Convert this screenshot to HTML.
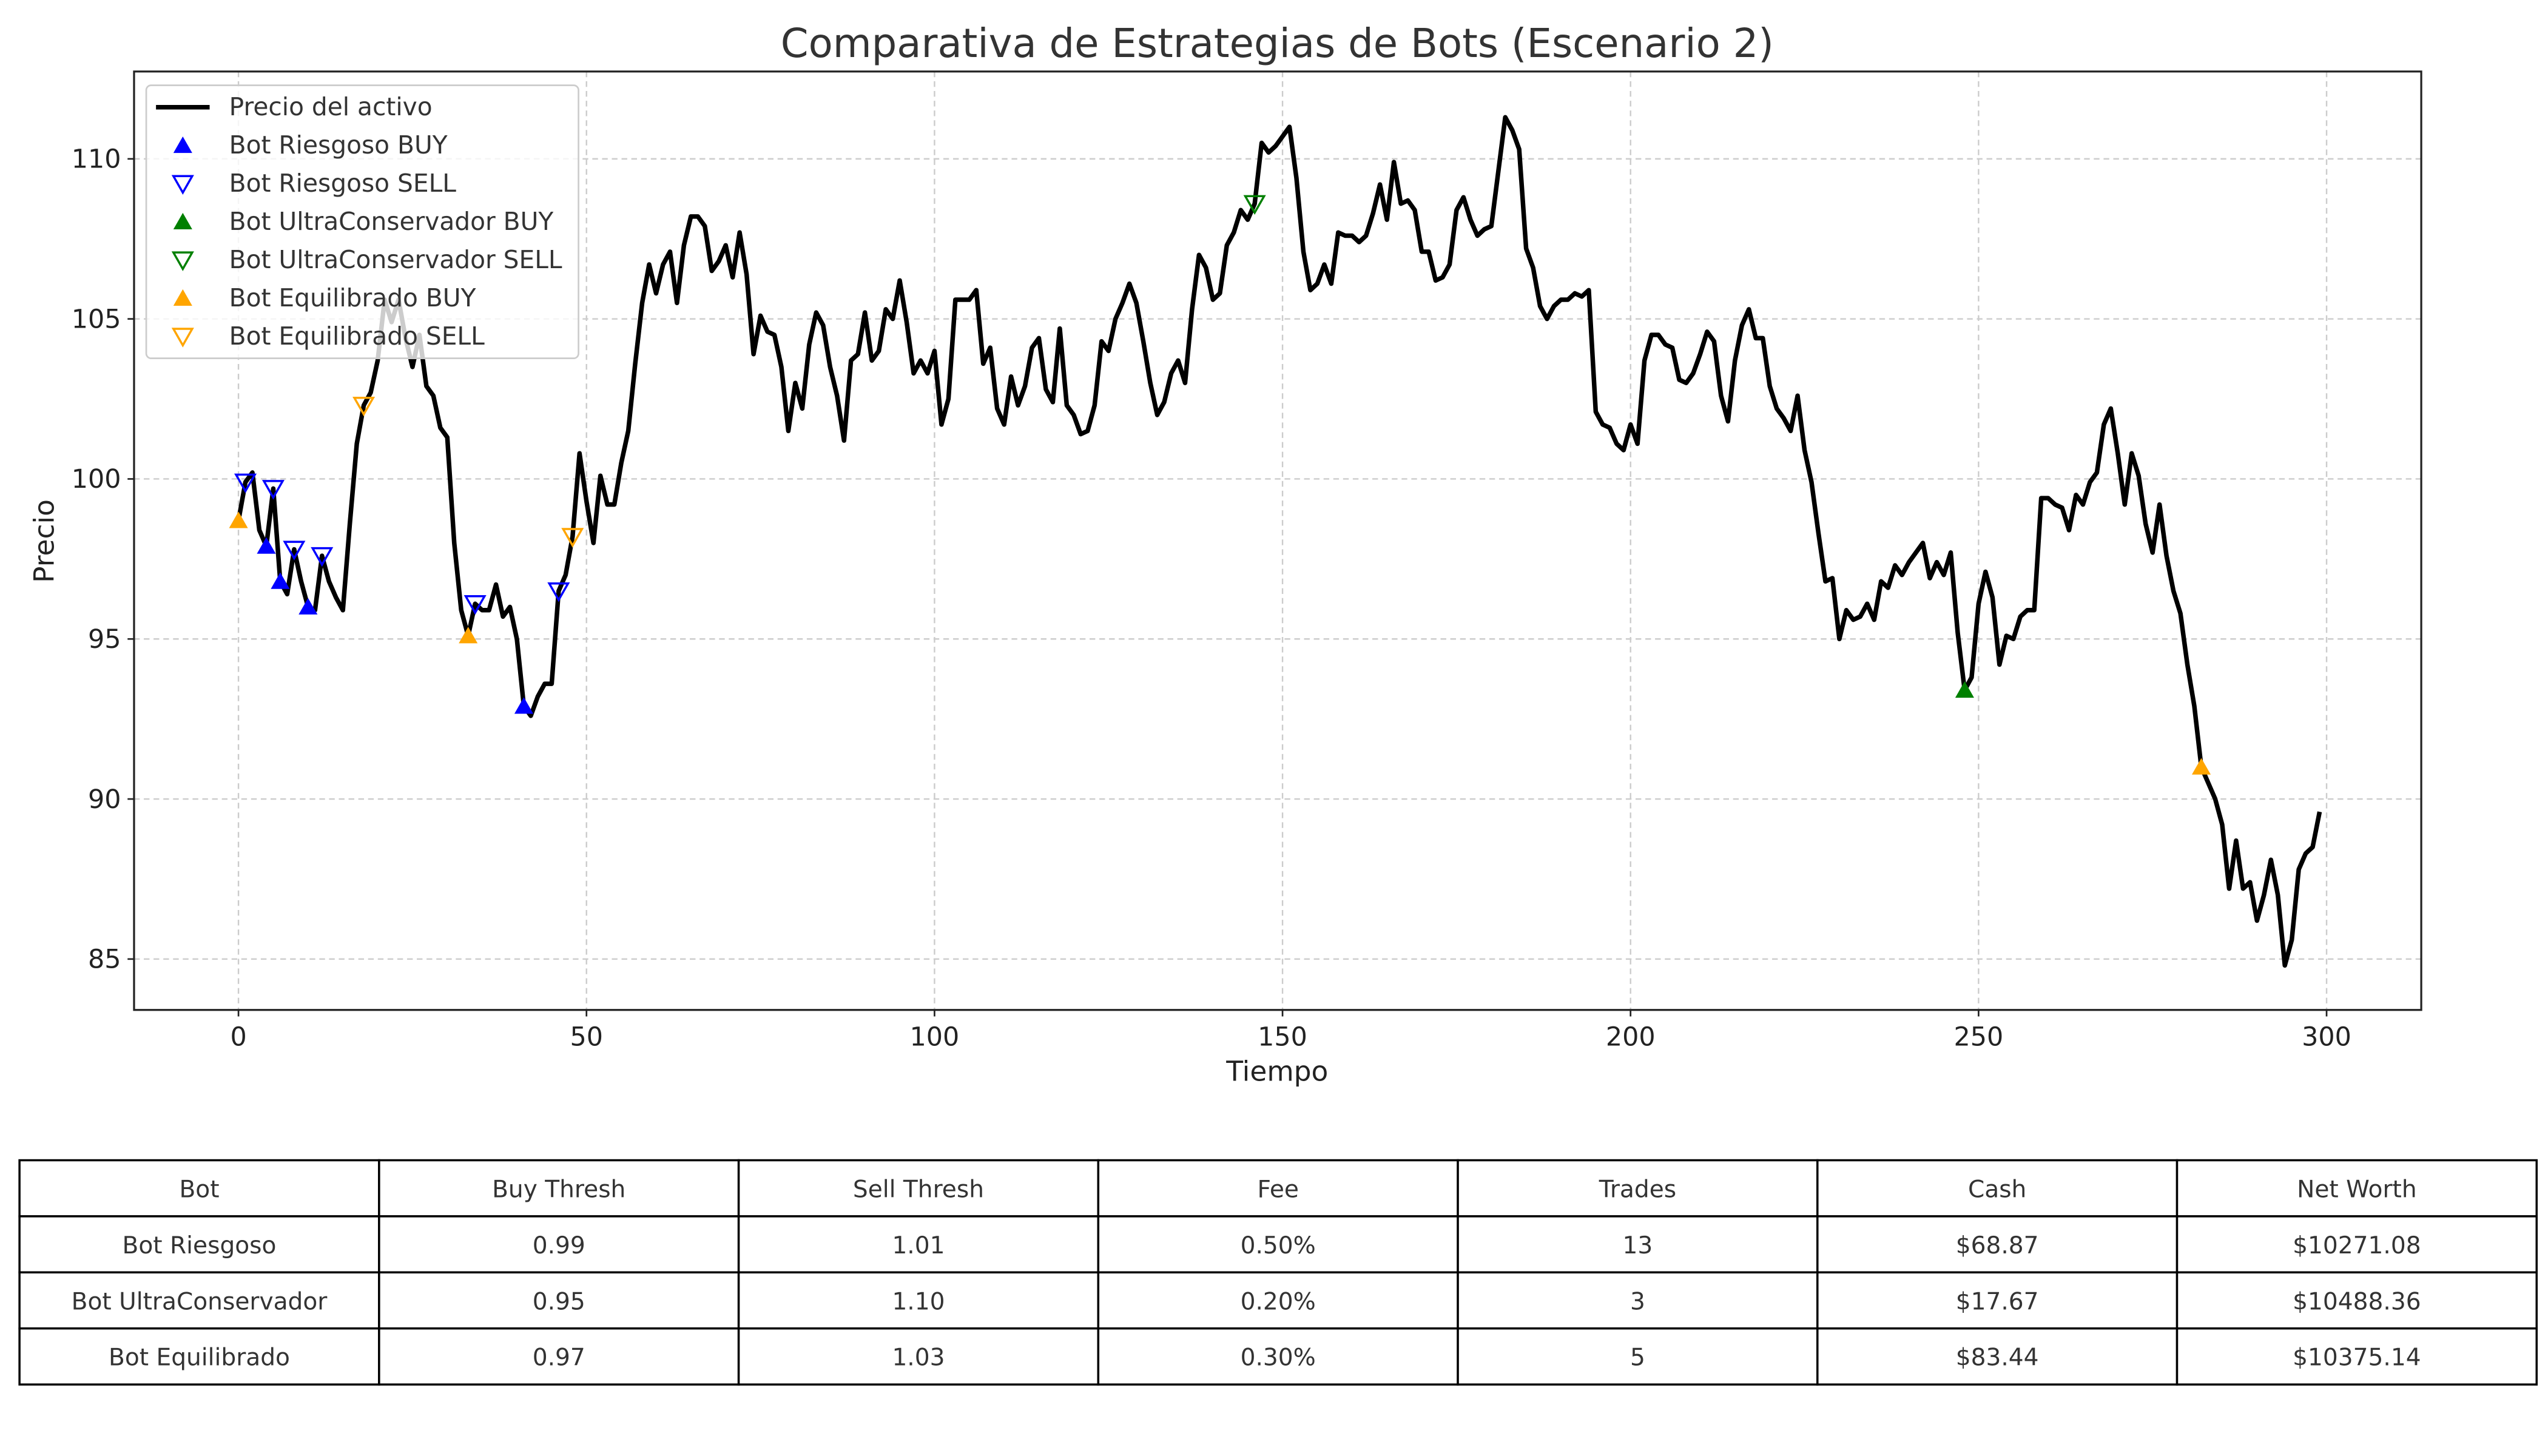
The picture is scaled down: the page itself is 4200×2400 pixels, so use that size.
<!DOCTYPE html>
<html><head><meta charset="utf-8"><style>
html,body{margin:0;padding:0;background:#fff;}
svg{display:block;font-family:"DejaVu Sans","Liberation Sans",sans-serif;}
</style></head><body>
<svg id="chart" xmlns="http://www.w3.org/2000/svg" width="4200" height="2400" viewBox="0 0 1568 896">
<rect x="0" y="0" width="1568" height="896" fill="#fff"/>
<text x="786" y="35" text-anchor="middle" font-size="24.5" fill="#333">Comparativa de Estrategias de Bots (Escenario 2)</text>
<g id="grid"></g>
<g id="plot"></g>
<g id="axes"></g>
<text x="786" y="665" text-anchor="middle" font-size="17" fill="#222">Tiempo</text>
<text x="0" y="0" transform="translate(33,333) rotate(-90)" text-anchor="middle" font-size="17" fill="#222">Precio</text>
<g id="legend">
<rect x="90" y="52.5" width="266" height="168" rx="3" fill="#fff" fill-opacity="0.8" stroke="#ccc" stroke-width="1"/>
</g>
<g id="table"></g>
</svg>
<script>
const NS="http://www.w3.org/2000/svg";
const price=[98.7,99.9,100.2,98.4,97.9,99.7,96.8,96.4,97.8,96.8,96.0,95.9,97.6,96.8,96.3,95.9,98.6,101.1,102.3,102.7,
103.7,105.6,104.9,105.6,104.4,103.5,104.5,102.9,102.6,101.6,101.3,98.0,95.9,95.1,96.1,95.9,95.9,96.7,95.7,96.0,
95.0,92.9,92.6,93.2,93.6,93.6,96.5,97.0,98.2,100.8,99.3,98.0,100.1,99.2,99.2,100.5,101.5,103.6,105.5,106.7,
105.8,106.7,107.1,105.5,107.3,108.2,108.2,107.9,106.5,106.8,107.3,106.3,107.7,106.4,103.9,105.1,104.6,104.5,103.5,101.5,
103.0,102.2,104.2,105.2,104.8,103.5,102.6,101.2,103.7,103.9,105.2,103.7,104.0,105.3,105.0,106.2,104.9,103.3,103.7,103.3,
104.0,101.7,102.5,105.6,105.6,105.6,105.9,103.6,104.1,102.2,101.7,103.2,102.3,102.9,104.1,104.4,102.8,102.4,104.7,102.3,
102.0,101.4,101.5,102.3,104.3,104.0,105.0,105.5,106.1,105.5,104.3,103.0,102.0,102.4,103.3,103.7,103.0,105.3,107.0,106.6,
105.6,105.8,107.3,107.7,108.4,108.1,108.6,110.5,110.2,110.4,110.7,111.0,109.4,107.1,105.9,106.1,106.7,106.1,107.7,107.6,
107.6,107.4,107.6,108.3,109.2,108.1,109.9,108.6,108.7,108.4,107.1,107.1,106.2,106.3,106.7,108.4,108.8,108.1,107.6,107.8,
107.9,109.6,111.3,110.9,110.3,107.2,106.6,105.4,105.0,105.4,105.6,105.6,105.8,105.7,105.9,102.1,101.7,101.6,101.1,100.9,
101.7,101.1,103.7,104.5,104.5,104.2,104.1,103.1,103.0,103.3,103.9,104.6,104.3,102.6,101.8,103.7,104.8,105.3,104.4,104.4,
102.9,102.2,101.9,101.5,102.6,100.9,99.9,98.3,96.8,96.9,95.0,95.9,95.6,95.7,96.1,95.6,96.8,96.6,97.3,97.0,
97.4,97.7,98.0,96.9,97.4,97.0,97.7,95.2,93.4,93.8,96.1,97.1,96.3,94.2,95.1,95.0,95.7,95.9,95.9,99.4,
99.4,99.2,99.1,98.4,99.5,99.2,99.9,100.2,101.7,102.2,100.8,99.2,100.8,100.1,98.6,97.7,99.2,97.6,96.5,95.8,
94.2,92.9,91.0,90.5,90.0,89.2,87.2,88.7,87.2,87.4,86.2,87.0,88.1,87.0,84.8,85.6,87.8,88.3,88.5,89.6];
const riskBuyT=[4,6,10,41];
const riskSellT=[1,5,8,12,34,46];
const ultraBuyT=[248];
const ultraSellT=[146];
const eqBuyT=[0,33,282];
const eqSellT=[18,48];
const xTicks=[0,50,100,150,200,250,300];
const yTicks=[85,90,95,100,105,110];
const tableHeader=["Bot","Buy Thresh","Sell Thresh","Fee","Trades","Cash","Net Worth"];
const rowRiesgoso=["Bot Riesgoso","0.99","1.01","0.50%","13","$68.87","$10271.08"];
const rowUltra=["Bot UltraConservador","0.95","1.10","0.20%","3","$17.67","$10488.36"];
const rowEquilibrado=["Bot Equilibrado","0.97","1.03","0.30%","5","$83.44","$10375.14"];

const L=82.5,R=1490,T=44,B=621.5;
const xMin=-15,xMax=313.6,yMin=83.41,yMax=112.73;
function sx(v){return L+(v-xMin)/(xMax-xMin)*(R-L);}
function sy(v){return B-(v-yMin)/(yMax-yMin)*(B-T);}
function mk(tag,attrs,parent){const e=document.createElementNS(NS,tag);for(const k in attrs)e.setAttribute(k,attrs[k]);parent.appendChild(e);return e;}
const grid=document.getElementById('grid'),plot=document.getElementById('plot'),axes=document.getElementById('axes');
xTicks.forEach(v=>{
  const g=mk('line',{x1:sx(v),x2:sx(v),y1:T,y2:B,stroke:'#ccc','stroke-width':0.9,'stroke-dasharray':'3.5,2.5'},grid);
  
  
  const tk=mk('line',{x1:sx(v),x2:sx(v),y1:B,y2:B+4,stroke:'#222','stroke-width':1},axes);
  
  
  const t=mk('text',{x:sx(v),y:B+22,'text-anchor':'middle','font-size':16,fill:'#222'},axes);
  t.textContent=v;
  
  
});
yTicks.forEach(v=>{
  const g=mk('line',{x1:L,x2:R,y1:sy(v),y2:sy(v),stroke:'#ccc','stroke-width':0.9,'stroke-dasharray':'3.5,2.5'},grid);
  
  
  const tk=mk('line',{x1:L-4,x2:L,y1:sy(v),y2:sy(v),stroke:'#222','stroke-width':1},axes);
  
  
  const t=mk('text',{x:L-8,y:sy(v)+5.5,'text-anchor':'end','font-size':16,fill:'#222'},axes);
  t.textContent=v;
  
  
});
const spine=mk('rect',{x:L,y:T,width:R-L,height:B-T,fill:'none',stroke:'#222','stroke-width':1.2},axes);


const pts=price.map((p,i)=>sx(i).toFixed(2)+','+sy(p).toFixed(2)).join(' ');
const line=mk('polyline',{points:pts,fill:'none',stroke:'#000','stroke-width':2.8,'stroke-linejoin':'round'},plot);


function tri(cx,cy,up,color,filled,parent,name){
  const s=5.8;
  const p=up?`${cx-s},${cy+s*0.8} ${cx+s},${cy+s*0.8} ${cx},${cy-s*0.95}`:`${cx-s},${cy-s*0.8} ${cx+s},${cy-s*0.8} ${cx},${cy+s*0.95}`;
  const e=mk('polygon',{points:p,fill:filled?color:'none',stroke:color,'stroke-width':filled?0:1.3},parent);
  
  
}
const sets=[[riskBuyT,true,'#0000ff',true,'riesgoso-buy-marker'],[riskSellT,false,'#0000ff',false,'riesgoso-sell-marker'],
[ultraBuyT,true,'#008000',true,'ultra-buy-marker'],[ultraSellT,false,'#008000',false,'ultra-sell-marker'],
[eqBuyT,true,'#ffa500',true,'equilibrado-buy-marker'],[eqSellT,false,'#ffa500',false,'equilibrado-sell-marker']];
sets.forEach(s=>s[0].forEach(t=>tri(sx(t),sy(price[t]),s[1],s[2],s[3],plot,s[4])));
const lg=document.getElementById('legend');
const labels=["Precio del activo","Bot Riesgoso BUY","Bot Riesgoso SELL","Bot UltraConservador BUY","Bot UltraConservador SELL","Bot Equilibrado BUY","Bot Equilibrado SELL"];
labels.forEach((lab,i)=>{
  const y=66+i*23.5;
  if(i===0){
    const l=mk('line',{x1:96,x2:129,y1:y,y2:y,stroke:'#000','stroke-width':2.8},lg);
    
    
  } else {
    const s=sets[i-1];
    tri(112.5,y,s[1],s[2],s[3],lg,'legend-marker');
  }
  const t=mk('text',{x:141,y:y+5,'font-size':15.2,fill:'#333'},lg);
  t.textContent=lab;
  
  
});
const tb=document.getElementById('table');
const tL=12,tR=1561,rowsY=[714,748.5,783,817.5,852];
const cw=(tR-tL)/7;
[tableHeader,rowRiesgoso,rowUltra,rowEquilibrado].forEach((row,r)=>{
  row.forEach((c,j)=>{
    const cell=mk('rect',{x:tL+j*cw,y:rowsY[r],width:cw,height:rowsY[r+1]-rowsY[r],fill:'#fff',stroke:'#000','stroke-width':1.3},tb);
    
    
    const t=mk('text',{x:tL+j*cw+cw/2,y:(rowsY[r]+rowsY[r+1])/2+5.5,'text-anchor':'middle','font-size':14.6,fill:'#333'},tb);
    t.textContent=c;
    
    
  });
});
</script>
</body></html>
